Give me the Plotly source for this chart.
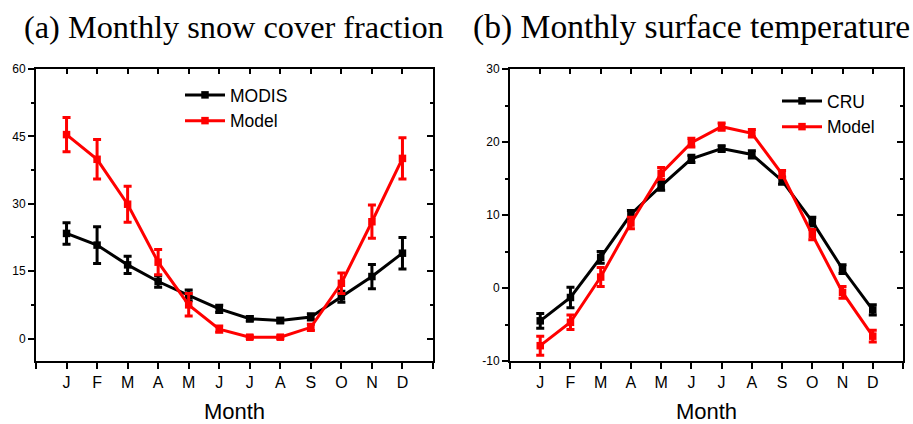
import plotly.graph_objects as go

months = ["J", "F", "M", "A", "M", "J", "J", "A", "S", "O", "N", "D"]
month_pos = list(range(1, 13))

# (a) Monthly snow cover fraction
modis_sc = [23.4, 20.8, 16.4, 12.7, 9.6, 6.6, 4.4, 4.0, 4.8, 9.3, 13.8, 19.0]
modis_sc_err = [2.4, 4.1, 1.9, 1.3, 1.2, 0.8, 0.5, 0.5, 0.7, 1.2, 2.7, 3.5]
model_sc = [45.4, 39.9, 29.9, 17.0, 7.5, 2.1, 0.3, 0.3, 2.5, 12.3, 26.0, 40.1]
model_sc_err = [3.8, 4.4, 4.0, 2.8, 2.5, 0.7, 0.3, 0.3, 0.7, 2.3, 3.7, 4.6]

# (b) Monthly surface temperature
cru_t = [-4.5, -1.3, 4.2, 10.1, 14.0, 17.7, 19.1, 18.3, 14.7, 9.1, 2.6, -3.0]
cru_t_err = [1.0, 1.4, 0.8, 0.5, 0.6, 0.5, 0.4, 0.5, 0.5, 0.6, 0.6, 0.7]
model_t = [-7.9, -4.7, 1.5, 8.9, 15.7, 19.9, 22.1, 21.2, 15.6, 7.3, -0.6, -6.6]
model_t_err = [1.3, 1.0, 1.3, 0.8, 0.8, 0.6, 0.5, 0.5, 0.5, 0.7, 0.8, 0.8]

ya_ticks = [0, 15, 30, 45, 60]
yb_ticks = [-10, 0, 10, 20, 30]
yb_ticktext = ["-10", "0", "10", "20", "30"]

W, H = 913, 424
ML, MR, MT, MB = 36, 10, 69, 63
PW = W - ML - MR
PH = H - MT - MB


def px_x(p):
    return (p - ML) / PW


def px_y(p):
    return 1 - (p - MT) / PH


dom_a = [0, px_x(433)]
dom_b = [px_x(510), 1]

fig = go.Figure()


def add_series(x, y, err, color, name, xa, ya, legend):
    fig.add_trace(go.Scatter(
        x=x, y=y, name=name, mode="lines+markers",
        line=dict(color=color, width=3),
        marker=dict(symbol="square", size=7.5, color=color),
        error_y=dict(type="data", array=err, visible=True, color=color,
                     thickness=3, width=4),
        xaxis=xa, yaxis=ya, legend=legend,
    ))


add_series(month_pos, modis_sc, modis_sc_err, "black", "MODIS", "x", "y", "legend")
add_series(month_pos, model_sc, model_sc_err, "#ff0000", "Model", "x", "y", "legend")
add_series(month_pos, cru_t, cru_t_err, "black", "CRU", "x2", "y2", "legend2")
add_series(month_pos, model_t, model_t_err, "#ff0000", "Model", "x2", "y2", "legend2")

xtickvals = list(range(0, 14))
xticktext = [""] + months + [""]
tickfont = dict(family="Liberation Sans, Arial", size=16, color="black")
ytickfont = dict(family="Liberation Sans, Arial", size=12, color="black")
titlefont = dict(family="Liberation Sans, Arial", size=22, color="black")

common_x = dict(range=[0, 13], tickmode="array", tickvals=xtickvals,
                showgrid=False, zeroline=False, automargin=False)
common_y = dict(showgrid=False, zeroline=False, automargin=False)

legend_font = dict(family="Liberation Sans, Arial", size=17.5, color="black")

layout = dict(
    width=W, height=H,
    margin=dict(l=ML, r=MR, t=MT, b=MB),
    paper_bgcolor="white", plot_bgcolor="white",
    showlegend=True,
    xaxis=dict(**common_x, domain=dom_a, anchor="y", ticktext=xticktext,
               ticks="outside", ticklen=6, tickwidth=2, tickcolor="black",
               showline=True, linewidth=2, linecolor="black", mirror=True,
               tickfont=tickfont,
               title=dict(text="Month", font=titlefont, standoff=21)),
    yaxis=dict(**common_y, domain=[0, 1], anchor="x", range=[-5, 60],
               tickmode="array", tickvals=ya_ticks,
               ticks="outside", ticklen=6, tickwidth=1.5, tickcolor="black",
               minor=dict(tickmode="array", tickvals=[-7.5 + 15 * k for k in range(1, 5)],
                          ticks="outside", ticklen=3, tickwidth=1.5, tickcolor="black"),
               showline=True, linewidth=2, linecolor="black", mirror=True,
               tickfont=ytickfont),
    xaxis2=dict(**common_x, domain=dom_b, anchor="y2", ticktext=xticktext,
                ticks="outside", ticklen=6, tickwidth=2, tickcolor="black",
                showline=True, linewidth=2, linecolor="black", mirror=True,
                tickfont=tickfont,
                title=dict(text="Month", font=titlefont, standoff=21)),
    yaxis2=dict(**common_y, domain=[0, 1], anchor="x2", range=[-10, 30],
                tickmode="array", tickvals=yb_ticks, ticktext=yb_ticktext,
                ticks="outside", ticklen=6, tickwidth=1.5, tickcolor="black",
                minor=dict(tickmode="array", tickvals=[-5, 5, 15, 25],
                           ticks="outside", ticklen=3, tickwidth=1.5, tickcolor="black"),
                showline=True, linewidth=2, linecolor="black", mirror=True,
                tickfont=ytickfont),
    # mirrored inner ticks (top / right)
    xaxis3=dict(**common_x, overlaying="x", anchor="y", side="top",
                ticks="inside", ticklen=5, tickwidth=1.5, tickcolor="black",
                showticklabels=False, showline=False),
    yaxis3=dict(**common_y, overlaying="y", anchor="x", side="right", range=[-5, 60],
                tickmode="array", tickvals=ya_ticks,
                ticks="inside", ticklen=6, tickwidth=1.5, tickcolor="black",
                minor=dict(tickmode="array", tickvals=[-7.5 + 15 * k for k in range(1, 5)],
                           ticks="inside", ticklen=3, tickwidth=1.5, tickcolor="black"),
                showticklabels=False, showline=False),
    xaxis4=dict(**common_x, overlaying="x2", anchor="y2", side="top",
                ticks="inside", ticklen=5, tickwidth=1.5, tickcolor="black",
                showticklabels=False, showline=False),
    yaxis4=dict(**common_y, overlaying="y2", anchor="x2", side="right", range=[-10, 30],
                tickmode="array", tickvals=yb_ticks,
                ticks="inside", ticklen=6, tickwidth=1.5, tickcolor="black",
                minor=dict(tickmode="array", tickvals=[-5, 5, 15, 25],
                           ticks="inside", ticklen=3, tickwidth=1.5, tickcolor="black"),
                showticklabels=False, showline=False),
    legend=dict(x=px_x(180), y=px_y(77), xanchor="left", yanchor="top",
                bgcolor="rgba(0,0,0,0)", borderwidth=0, itemwidth=40,
                font=legend_font, tracegroupgap=0),
    legend2=dict(x=px_x(777), y=px_y(83), xanchor="left", yanchor="top",
                 bgcolor="rgba(0,0,0,0)", borderwidth=0, itemwidth=40,
                 font=legend_font, tracegroupgap=0),
    annotations=[
        dict(text="(a) Monthly snow cover fraction", x=px_x(22), y=px_y(27),
             xref="paper", yref="paper", xanchor="left", yanchor="middle",
             showarrow=False,
             font=dict(family="Liberation Serif, Times New Roman", size=32.3, color="black")),
        dict(text="(b) Monthly surface temperature", x=px_x(471), y=px_y(27),
             xref="paper", yref="paper", xanchor="left", yanchor="middle",
             showarrow=False,
             font=dict(family="Liberation Serif, Times New Roman", size=33.6, color="black")),
    ],
)
fig.update_layout(**layout)

# empty helper traces so the mirrored tick axes are rendered
fig.add_trace(go.Scatter(x=[], y=[], xaxis="x3", yaxis="y3", showlegend=False, hoverinfo="skip"))
fig.add_trace(go.Scatter(x=[], y=[], xaxis="x4", yaxis="y4", showlegend=False, hoverinfo="skip"))

fig.write_html("out.html")
